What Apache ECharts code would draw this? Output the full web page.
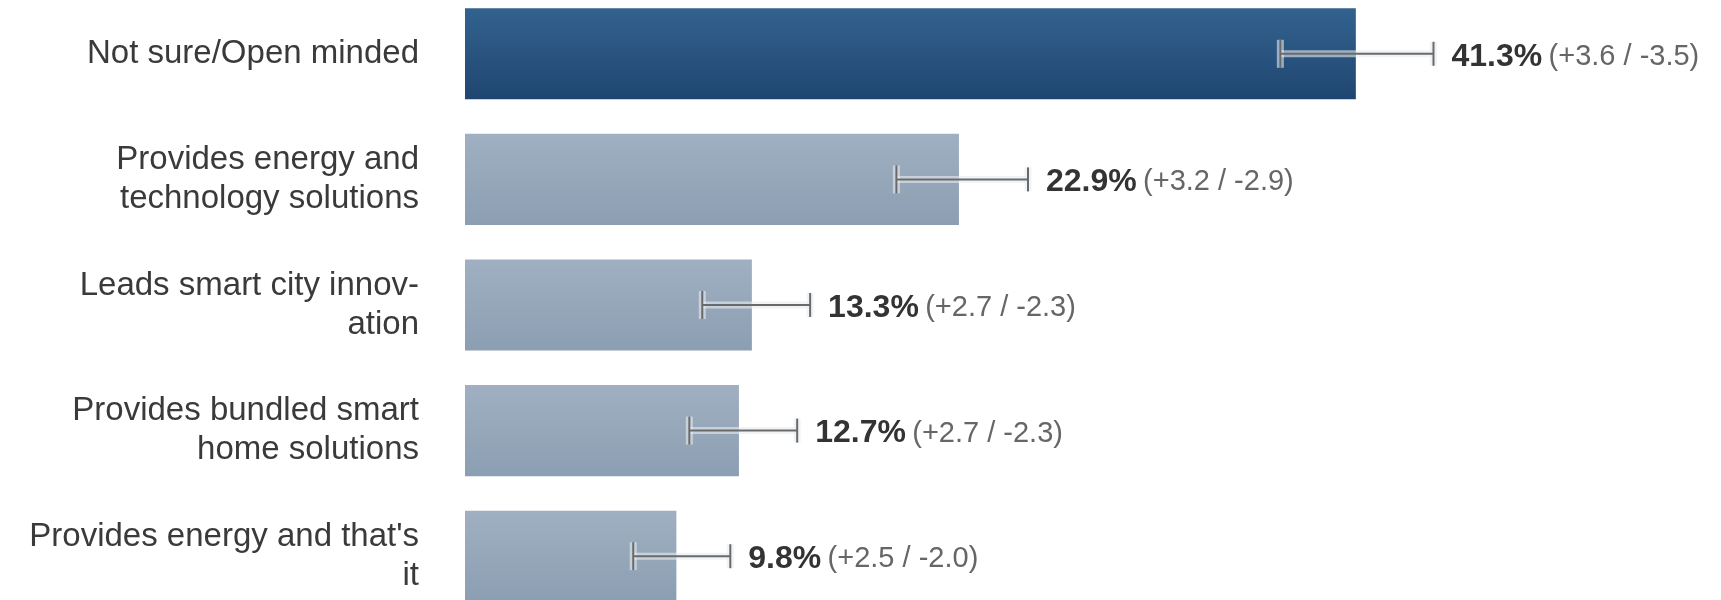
<!DOCTYPE html>
<html>
<head>
<meta charset="utf-8">
<script src="https://cdn.jsdelivr.net/npm/echarts@6/dist/echarts.min.js"></script>
<style>
html,body{margin:0;padding:0;background:#fff;overflow:hidden;width:1721px;height:600px;}
#chart{position:absolute;left:0;top:-9px;width:1721px;height:628px;}
</style>
</head>
<body>
<div id="chart"></div>
<script>
const categories = [
  'Not sure/Open minded',
  'Provides energy and\ntechnology solutions',
  'Leads smart city innov-\nation',
  'Provides bundled smart\nhome solutions',
  "Provides energy and that's\nit"
];
const values = [41.3, 22.9, 13.3, 12.7, 9.8];
const errPlus = [3.6, 3.2, 2.7, 2.7, 2.5];
const errMinus = [3.5, 2.9, 2.3, 2.3, 2.0];

const FONT = '"Liberation Sans", Arial, sans-serif';

const darkGrad = new echarts.graphic.LinearGradient(0, 0, 0, 1, [
  {offset: 0, color: '#33628f'}, {offset: 1, color: '#1f4670'}]);
const lightGrad = new echarts.graphic.LinearGradient(0, 0, 0, 1, [
  {offset: 0, color: '#a0b0c2'}, {offset: 1, color: '#8c9eb2'}]);

const barData = values.map((v, i) => ({
  value: v,
  itemStyle: {color: i === 0 ? darkGrad : lightGrad}
}));
const errData = values.map((v, i) => [i, v - errMinus[i], v + errPlus[i], v, errPlus[i], errMinus[i]]);

const chart = echarts.init(document.getElementById('chart'), null, {renderer: 'canvas'});
chart.setOption({
  backgroundColor: '#ffffff',
  animation: false,
  grid: {left: 465, right: 177.5, top: 0, bottom: 0},
  xAxis: {
    type: 'value', min: 0, max: 50,
    show: false
  },
  yAxis: {
    type: 'category', data: categories, inverse: true,
    axisLine: {show: false}, axisTick: {show: false},
    axisLabel: {
      margin: 46, align: 'right', fontFamily: FONT, fontSize: 33,
      color: '#3a3a3a', lineHeight: 39, padding: [2, 0, 0, 0]
    }
  },
  series: [
    {
      type: 'bar', data: barData, barWidth: '72.5%',
      silent: true, z: 2
    },
    {
      type: 'custom',
      data: errData,
      encode: {x: [1, 2], y: 0},
      clip: false,
      z: 10,
      renderItem: function (params, api) {
        const idx = api.value(0);
        const lo = api.coord([api.value(1), idx]);
        const hi = api.coord([api.value(2), idx]);
        const y = lo[1];
        const ch = 12;
        const shapes = [];
        const mk = (stroke, w, op) => [
          {type: 'line', shape: {x1: lo[0], y1: y, x2: hi[0], y2: y}, style: {stroke: stroke, lineWidth: w, opacity: op}},
          {type: 'line', shape: {x1: lo[0], y1: y - ch - 2, x2: lo[0], y2: y + ch + 2}, style: {stroke: stroke, lineWidth: w, opacity: op}},
          {type: 'line', shape: {x1: hi[0], y1: y - ch, x2: hi[0], y2: y + ch}, style: {stroke: stroke, lineWidth: w, opacity: op}}
        ];
        mk('#e8edf2', 7, 0.6).forEach(s => shapes.push(s));
        mk('#6a6a6a', 2, 1).forEach(s => shapes.push(s));
        const v = api.value(3), p = api.value(4), m = api.value(5);
        shapes.push({
          type: 'text',
          style: {
            x: hi[0] + 18, y: y + 3,
            text: '{b|' + v.toFixed(1) + '%} {n|(+' + p.toFixed(1) + ' / -' + m.toFixed(1) + ')}',
            verticalAlign: 'middle', align: 'left',
            rich: {
              b: {fontFamily: FONT, fontSize: 32, fontWeight: 'bold', fill: '#333333'},
              n: {fontFamily: FONT, fontSize: 29, fill: '#666666', padding: [0, 0, 0, 3]}
            }
          }
        });
        return {type: 'group', children: shapes};
      }
    }
  ]
});
</script>
</body>
</html>
